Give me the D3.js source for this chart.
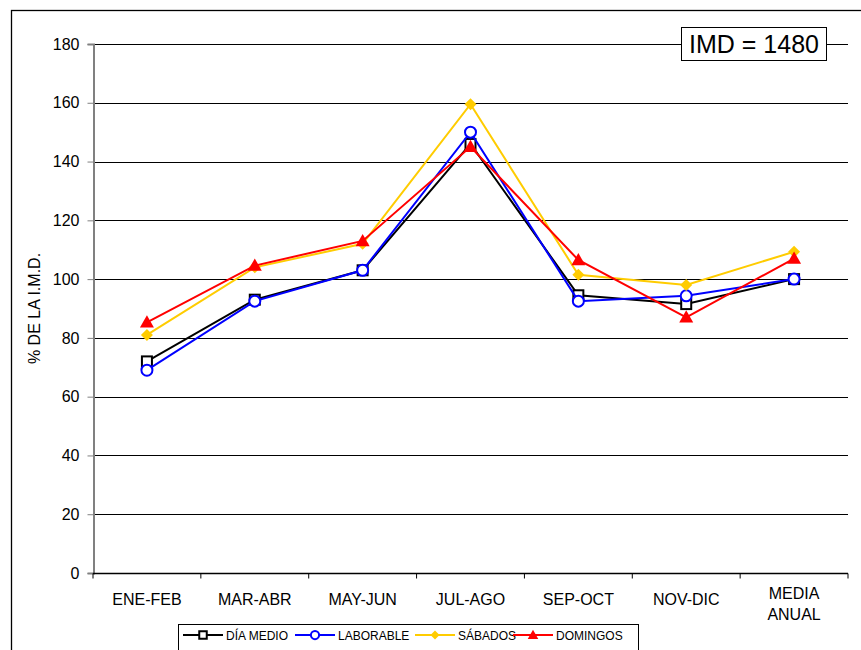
<!DOCTYPE html>
<html><head><meta charset="utf-8">
<script src="https://cdn.jsdelivr.net/npm/d3@7"></script>
<style>body{margin:0;background:#fff;} svg{display:block;font-family:"Liberation Sans",Arial,sans-serif;}</style>
</head><body><svg id="c" width="861" height="650"></svg>
<script>
const categories = ["ENE-FEB","MAR-ABR","MAY-JUN","JUL-AGO","SEP-OCT","NOV-DIC","MEDIA ANUAL"];
const diaMedio   = [72, 93, 103, 146, 94.5, 91.5, 100];
const laborable  = [69, 92.5, 103, 150, 92.5, 94.3, 100];
const sabados    = [81, 104, 112, 159.5, 101.5, 98, 109.3];
const domingos   = [85.3, 104.6, 113, 145, 106.5, 87, 107];
const yTicks = [0,20,40,60,80,100,120,140,160,180];
const imdLabel = "IMD = 1480";
const yTitle = "% DE LA I.M.D.";

const series = [
  {name:"DÍA MEDIO", values:diaMedio, color:"#000000", marker:"square"},
  {name:"LABORABLE", values:laborable, color:"#0000FF", marker:"circle"},
  {name:"SÁBADOS", values:sabados, color:"#FFCC00", marker:"diamond"},
  {name:"DOMINGOS", values:domingos, color:"#FF0000", marker:"triangle"}
];

const svg = d3.select("#c");
const L = 93, R = 848, T = 44, B = 573;

// outer border
svg.append("rect").attr("x",11.5).attr("y",10.5).attr("width",900).attr("height",700)
  .attr("fill","none").attr("stroke","#000").attr("stroke-width",1.3);

const x = d3.scaleBand().domain(categories).range([L,R]);
const y = d3.scaleLinear().domain([0,180]).range([B,T]);

// gridlines
svg.append("g").selectAll("line").data(yTicks.filter(d=>d>0)).join("line")
  .attr("x1",L).attr("x2",R).attr("y1",d=>Math.round(y(d))+0.5).attr("y2",d=>Math.round(y(d))+0.5)
  .attr("stroke","#000").attr("stroke-width",1);

// y axis
const ya = svg.append("g").attr("transform",`translate(${L+0.5},0)`)
  .call(d3.axisLeft(y).tickValues(yTicks).tickSize(6).tickPadding(8));
ya.select(".domain").attr("stroke","#808080").attr("stroke-width",2);
ya.selectAll(".tick line").attr("stroke","#808080");
ya.selectAll("text").attr("font-size",16).attr("fill","#000").attr("font-family","Liberation Sans, Arial, sans-serif");

// x axis
const xa = svg.append("g").attr("transform",`translate(0,${B+0.5})`);
xa.append("line").attr("x1",L).attr("x2",R).attr("stroke","#000").attr("stroke-width",1.3);
const bounds = categories.map((c,i)=>x(c)).concat([R]);
xa.selectAll(".tk").data(bounds).join("line").attr("class","tk")
  .attr("x1",d=>d).attr("x2",d=>d).attr("y1",0).attr("y2",5).attr("stroke","#000");
categories.forEach(c=>{
  const words = c === "MEDIA ANUAL" ? ["MEDIA","ANUAL"] : [c];
  const t = xa.append("text").attr("x",x(c)+x.bandwidth()/2).attr("text-anchor","middle")
    .attr("font-size",16).attr("fill","#000");
  words.forEach((w,i)=>{
    t.append("tspan").attr("x",x(c)+x.bandwidth()/2)
      .attr("y", words.length===1 ? 31 : 25 + i*21).text(w);
  });
});

// y title
svg.append("text").attr("transform",`translate(40,${(T+B)/2}) rotate(-90)`)
  .attr("text-anchor","middle").attr("font-size",16).text(yTitle);

// markers
function drawMarker(g, type, cx, cy, color, scale){
  scale = scale||1;
  if(type==="square"){
    const s=10*scale;
    g.append("rect").attr("x",cx-s/2).attr("y",cy-s/2).attr("width",s).attr("height",s)
      .attr("fill","#fff").attr("stroke",color).attr("stroke-width",2);
  } else if(type==="circle"){
    g.append("circle").attr("cx",cx).attr("cy",cy).attr("r",5.5*scale)
      .attr("fill","#fff").attr("stroke",color).attr("stroke-width",2);
  } else if(type==="diamond"){
    const s=6*scale;
    g.append("path").attr("d",`M${cx},${cy-s}L${cx+s},${cy}L${cx},${cy+s}L${cx-s},${cy}Z`).attr("fill",color);
  } else {
    const s=7*scale;
    g.append("path").attr("d",`M${cx},${cy-s}L${cx+s},${cy+s*0.75}L${cx-s},${cy+s*0.75}Z`).attr("fill",color);
  }
}

const cxOf = c => x(c)+x.bandwidth()/2;
const line = d3.line().x((d,i)=>cxOf(categories[i])).y(d=>y(d));
series.forEach(s=>{
  const g = svg.append("g");
  g.append("path").datum(s.values).attr("d",line).attr("fill","none")
    .attr("stroke",s.color).attr("stroke-width",2);
  s.values.forEach((v,i)=>drawMarker(g,s.marker,cxOf(categories[i]),y(v),s.color));
});

// IMD box
const ib = svg.append("g");
ib.append("rect").attr("x",681.5).attr("y",27.5).attr("width",145).attr("height",33)
  .attr("fill","#fff").attr("stroke","#000").attr("stroke-width",1);
ib.append("text").attr("x",754).attr("y",53).attr("text-anchor","middle").attr("font-size",25).text(imdLabel);

// legend
const lg = svg.append("g");
lg.append("rect").attr("x",178.5).attr("y",624.5).attr("width",460).attr("height",30)
  .attr("fill","#fff").attr("stroke","#000").attr("stroke-width",1);
const legX = [183, 295, 415, 513];
series.forEach((s,i)=>{
  const lx = legX[i], ly = 635;
  lg.append("line").attr("x1",lx).attr("x2",lx+40).attr("y1",ly).attr("y2",ly)
    .attr("stroke",s.color).attr("stroke-width",2);
  drawMarker(lg,s.marker,lx+20,ly,s.color,0.75);
  lg.append("text").attr("x",lx+43).attr("y",ly+4.5).attr("font-size",12).text(s.name);
});
</script></body></html>
